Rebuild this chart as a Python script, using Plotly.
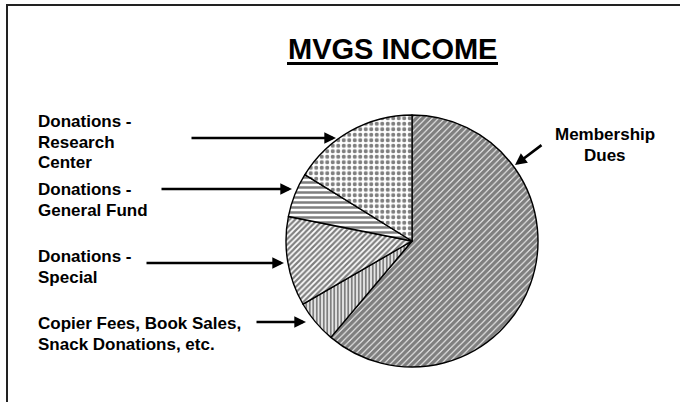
import plotly.graph_objects as go

# ---- data (clockwise from 12 o'clock) ----
categories = ["Membership Dues", "Copier Fees, Book Sales, Snack Donations, etc.",
              "Donations - Special", "Donations - General Fund", "Donations - Research Center"]
values = [61.2, 5.5, 11.5, 5.7, 16.2]
label_lines = [
    ["Membership", "Dues"],
    ["Copier Fees, Book Sales,", "Snack Donations, etc."],
    ["Donations -", "Special"],
    ["Donations -", "General Fund"],
    ["Donations -", "Research", "Center"],
]
title_text = "MVGS INCOME"

W, H = 680, 402
def X(px): return px / W
def Y(py): return 1 - py / H

# pie geometry (pixels)
cx, cy, r = 412, 241, 126

patterns = [
    dict(shape="/", size=4.5, solidity=0.8),
    dict(shape="|", size=3.5, solidity=0.6),
    dict(shape="/", size=4, solidity=0.55),
    dict(shape="-", size=5, solidity=0.5),
    dict(shape=".", size=5.5, solidity=0.45),
]

fig = go.Figure(go.Pie(
    labels=categories, values=values, sort=False, direction="clockwise", rotation=0,
    textinfo="none", hoverinfo="none", showlegend=False,
    marker=dict(
        colors=["white"] * 5,
        line=dict(color="black", width=1.4),
        pattern=dict(
            shape=[p["shape"] for p in patterns],
            size=[p["size"] for p in patterns],
            solidity=[p["solidity"] for p in patterns],
            fgcolor="black", bgcolor="white", fillmode="overlay",
        ),
    ),
    domain=dict(x=[X(cx - r), X(cx + r)], y=[Y(cy + r), Y(cy - r)]),
))

font_lbl = dict(family="Liberation Sans, Arial", size=17, color="black")
annotations = []
line_step = 20.5
# label text placement: (left x or center x, top y of first line, anchor)
label_pos = [
    (604.5, 123, "center"),
    (36, 312, "left"),
    (36, 245, "left"),
    (36, 178, "left"),
    (36, 110, "left"),
]
for lines, (lx, ly, xa) in zip(label_lines, label_pos):
    for i, ln in enumerate(lines):
        annotations.append(dict(x=X(lx), y=Y(ly + i * line_step), xref="paper", yref="paper",
                                text="<b>" + ln + "</b>", showarrow=False, xanchor=xa,
                                yanchor="top", font=font_lbl))

# arrows: (tail_x, tail_y, tip_x, tip_y)
arrows = [
    (543, 144, 515, 165),
    (255, 322, 306, 322),
    (145, 263, 284, 263),
    (160, 189, 292, 189),
    (190, 138, 336, 138),
]
for tx, ty, hx, hy in arrows:
    annotations.append(dict(x=X(hx), y=Y(hy), xref="paper", yref="paper", text="",
                            showarrow=True, axref="pixel", ayref="pixel", ax=tx - hx, ay=ty - hy,
                            arrowhead=2, arrowsize=0.9, arrowwidth=2.6, arrowcolor="black", standoff=0))

annotations.append(dict(x=X(392.5), y=Y(31), xref="paper", yref="paper", text="<b>" + title_text + "</b>",
                        showarrow=False, xanchor="center", yanchor="top",
                        font=dict(family="Liberation Sans, Arial", size=29, color="black")))

shapes = [
    dict(type="line", xref="paper", yref="paper", x0=X(287), x1=X(498), y0=Y(63.5), y1=Y(63.5),
         line=dict(color="black", width=3)),
    dict(type="line", xref="paper", yref="paper", x0=X(6), x1=X(680), y0=Y(5), y1=Y(5),
         line=dict(color="#222", width=2)),
    dict(type="line", xref="paper", yref="paper", x0=X(7), x1=X(7), y0=Y(5), y1=Y(402),
         line=dict(color="#222", width=2)),
]

fig.update_layout(width=W, height=H, margin=dict(l=0, r=0, t=0, b=0),
                  paper_bgcolor="white", plot_bgcolor="white",
                  annotations=annotations, shapes=shapes)

fig.write_html("out.html", config={"displayModeBar": False},
               post_script="document.body.style.margin='0';document.body.style.padding='0';")
